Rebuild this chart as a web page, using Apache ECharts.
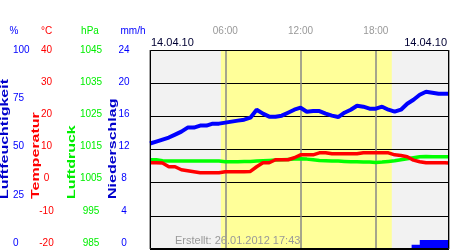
<!DOCTYPE html>
<html><head><meta charset="utf-8">
<script src="https://cdn.jsdelivr.net/npm/echarts@6/dist/echarts.min.js"></script>
<style>html,body{margin:0;padding:0;background:#fff}#c{width:450px;height:250px}</style>
</head><body><div id="c"></div>
<script>
const hours = [0,0.5,1,1.5,2,2.5,3,3.5,4,4.5,5,5.5,6,6.5,7,7.5,8,8.5,9,9.5,10,10.5,11,11.5,12,12.5,13,13.5,14,14.5,15,15.5,16,16.5,17,17.5,18,18.5,19,19.5,20,20.5,21,21.5,22,22.5,23,23.5,23.83];
const humidity = [53,54,55,56,57.5,59,61,61,62,62,63,63,63.5,64,64.5,65,66,70,68,66.5,66.5,67,68.5,70,71,69,69.3,69.3,68,67,66.3,68.5,70,72,71.5,70.5,70.5,71.5,70,69,70,73,75,77.5,79,78.5,78,78,78];
const temperature = [6.0,6.0,5.9,4.8,4.8,3.9,3.6,3.3,3.0,3.0,3.0,3.0,3.3,3.3,3.3,3.3,3.4,4.8,6.0,6.0,6.9,6.9,6.9,7.5,8.4,8.4,8.4,9.0,9.0,8.7,8.7,8.7,8.7,8.7,9.0,9.0,9.0,9.0,9.0,8.4,8.2,7.8,6.8,6.3,6.0,6.0,6.0,6.0,5.9];
const pressure = [1011.9,1011.9,1011.6,1011.5,1011.5,1011.5,1011.5,1011.5,1011.5,1011.5,1011.5,1011.5,1011.3,1011.3,1011.3,1011.4,1011.4,1011.5,1011.6,1011.7,1011.8,1011.9,1012.0,1012.1,1012.2,1012.1,1011.9,1011.7,1011.6,1011.5,1011.5,1011.4,1011.3,1011.3,1011.2,1011.2,1011.1,1011.2,1011.4,1011.6,1011.9,1012.2,1012.5,1012.8,1012.9,1012.8,1012.8,1012.8,1012.8];
const precipHours = [0,20.85,21.5,23.75,23.83];
const precipValues = [0,0.5,1.1,0,0];
const humidityTicks = ['0','25','50','75','100'];
const temperatureTicks = ['-20','-10','0','10','20','30','40'];
const pressureTicks = ['985','995','1005','1015','1025','1035','1045'];
const precipTicks = ['0','4','8','12','16','20','24'];
const dayStart = 5.65, dayEnd = 19.27;

const FONT = 'Liberation Sans, Arial, sans-serif';
const pair = (xs, ys) => xs.map((x, i) => [x, ys[i]]);
const pad = v => (v < 10 ? '0' : '') + v + ':00';

function labelAxis(data, color, offset, align) {
  return {
    gridIndex: 1, type: 'category', data: data, boundaryGap: false, position: 'left', offset: offset,
    axisLine: {show: false}, axisTick: {show: false}, splitLine: {show: false},
    axisLabel: {color: color, fontSize: 10, fontFamily: FONT, margin: 0, align: align, interval: 0}
  };
}
function header(text, x, color) {
  return {type: 'text', x: x, y: 31, z: 50, style: {text: text, fill: color, font: '10px ' + FONT, textAlign: 'center', align: 'center', textVerticalAlign: 'middle', verticalAlign: 'middle'}};
}
function vtitle(text, x, color) {
  return {type: 'text', x: x, y: 199, rotation: Math.PI / 2, scaleX: 1.6, z: 50,
    style: {text: text, fill: color, font: 'bold 10px ' + FONT, textAlign: 'left', align: 'left', textVerticalAlign: 'middle', verticalAlign: 'middle'}};
}

const chart = echarts.init(document.getElementById('c'), null, {renderer: 'canvas'});
chart.setOption({
  animation: false,
  grid: [
    {left: 150, top: 50, width: 299, height: 199, show: true, backgroundColor: '#f2f2f2', borderWidth: 0, z: -2},
    {left: 150, top: 50, width: 299, height: 193, show: false}
  ],
  xAxis: [
    {gridIndex: 0, type: 'value', min: 0, max: 23.83, interval: 6, position: 'top',
      axisLine: {show: false}, axisTick: {show: false},
      axisLabel: {color: '#999', fontSize: 10, fontFamily: FONT, margin: 14, showMinLabel: false, showMaxLabel: false, formatter: pad},
      splitLine: {show: true, lineStyle: {color: '#888', width: 1.5}}},
    {gridIndex: 1, type: 'value', show: false}
  ],
  yAxis: [
    {gridIndex: 0, type: 'value', min: 0, max: 100, show: false},
    {gridIndex: 0, type: 'value', min: -20, max: 40, interval: 10,
      axisLine: {show: false}, axisTick: {show: false}, axisLabel: {show: false},
      splitLine: {show: true, lineStyle: {color: '#000', width: 1}}},
    {gridIndex: 0, type: 'value', min: 985, max: 1045, show: false},
    {gridIndex: 0, type: 'value', min: 0, max: 24, show: false},
    labelAxis(humidityTicks, '#0000ff', 137, 'left'),
    labelAxis(temperatureTicks, '#ff0000', 103.5, 'center'),
    labelAxis(pressureTicks, '#00ee00', 59, 'center'),
    labelAxis(precipTicks, '#0000ff', 26, 'center')
  ],
  series: [
    {type: 'line', xAxisIndex: 0, yAxisIndex: 0, data: [[0, 0]], symbol: 'none', showSymbol: false, lineStyle: {width: 0}, z: 1,
      markArea: {silent: true, z: -1, itemStyle: {color: '#ffff99', opacity: 1}, data: [[{xAxis: dayStart}, {xAxis: dayEnd}]]}},
    {type: 'line', name: 'Niederschlag', xAxisIndex: 0, yAxisIndex: 3, data: pair(precipHours, precipValues), step: 'end',
      symbol: 'none', lineStyle: {width: 0}, areaStyle: {color: '#0000ff', opacity: 1}, z: 3},
    {type: 'line', name: 'Luftdruck', xAxisIndex: 0, yAxisIndex: 2, data: pair(hours, pressure), symbol: 'none',
      lineStyle: {color: '#00ff00', width: 3.5}, z: 3},
    {type: 'line', name: 'Temperatur', xAxisIndex: 0, yAxisIndex: 1, data: pair(hours, temperature), symbol: 'none',
      lineStyle: {color: '#ff0000', width: 3.5}, z: 4},
    {type: 'line', name: 'Luftfeuchtigkeit', xAxisIndex: 0, yAxisIndex: 0, data: pair(hours, humidity), symbol: 'none',
      lineStyle: {color: '#0000ff', width: 4}, z: 5}
  ],
  graphic: [
    {type: 'rect', z: 100, shape: {x: 150.5, y: 50.5, width: 298, height: 198}, style: {fill: 'none', stroke: '#000', lineWidth: 1}},
    header('%', 14, '#0000ff'),
    header('°C', 46.5, '#ff0000'),
    header('hPa', 90, '#00ee00'),
    header('mm/h', 133, '#0000ff'),
    vtitle('Luftfeuchtigkeit', 5, '#0000cc'),
    vtitle('Temperatur', 36, '#ff0000'),
    vtitle('Luftdruck', 72, '#00ee00'),
    vtitle('Niederschlag', 113.5, '#0000cc'),
    {type: 'text', x: 151, y: 43, z: 50, style: {text: '14.04.10', fill: '#000033', font: '11px ' + FONT, textAlign: 'left', align: 'left', textVerticalAlign: 'middle', verticalAlign: 'middle'}},
    {type: 'text', x: 447, y: 43, z: 50, style: {text: '14.04.10', fill: '#000033', font: '11px ' + FONT, textAlign: 'right', align: 'right', textVerticalAlign: 'middle', verticalAlign: 'middle'}},
    {type: 'text', x: 175, y: 241, z: 50, style: {text: 'Erstellt: 26.01.2012 17:43', fill: '#999', font: '11px ' + FONT, textAlign: 'left', align: 'left', textVerticalAlign: 'middle', verticalAlign: 'middle'}}
  ]
});
</script></body></html>
